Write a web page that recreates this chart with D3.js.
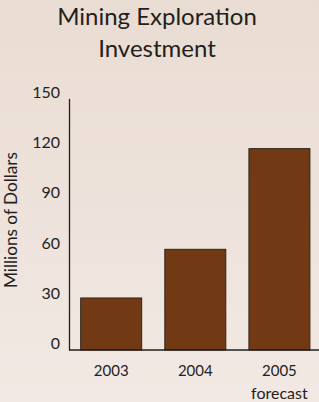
<!DOCTYPE html>
<html><head><meta charset="utf-8">
<script src="https://cdn.jsdelivr.net/npm/d3@7"></script>
<style>
html,body{margin:0;padding:0;}
body{width:319px;height:402px;overflow:hidden;}
text{font-family:Lato,"Open Sans",sans-serif;fill:#231f1c;}
</style></head><body>
<script>
const categories = ["2003", "2004", "2005"];
const subLabels = ["", "", "forecast"];
const values = [31, 60, 120];
const yTicks = [0, 30, 60, 90, 120, 150];
const titleLines = ["Mining Exploration", "Investment"];
const yTitle = "Millions of Dollars";

const W = 319, H = 402;
const svg = d3.select("body").append("svg").attr("width", W).attr("height", H);
const defs = svg.append("defs");
const g = defs.append("linearGradient").attr("id","bg").attr("x1",0).attr("y1",0).attr("x2",0).attr("y2",1);
g.append("stop").attr("offset","0%").attr("stop-color","#e9dcd2");
g.append("stop").attr("offset","100%").attr("stop-color","#f2e9e4");
svg.append("rect").attr("width",W).attr("height",H).attr("fill","url(#bg)");

const x = d3.scaleBand().domain(categories).range([69, 321.6]).paddingInner(0.275).paddingOuter(0.139);
const y = d3.scaleLinear().domain([0,150]).range([350, 98.3]);

svg.selectAll("text.title").data(titleLines).join("text").attr("class","title")
  .attr("x", 157).attr("y",(d,i)=>25+i*32).attr("text-anchor","middle")
  .style("font-size","24px").text(d=>d);

svg.append("text").attr("transform","translate(16.5,220) rotate(-90)").attr("text-anchor","middle")
  .style("font-size","16.5px").attr("textLength",136).attr("lengthAdjust","spacingAndGlyphs").text(yTitle);

const yAxis = svg.append("g").attr("transform","translate(69,0)")
  .call(d3.axisLeft(y).tickValues(yTicks).tickSize(0).tickPadding(9));
yAxis.select(".domain").attr("stroke","#231f1c").attr("stroke-width",1.3);
yAxis.selectAll("text").style("font-size","16px").attr("dy","-0.08em").style("font-family","Lato,sans-serif").attr("fill","#231f1c");

svg.selectAll("rect.bar").data(values).join("rect").attr("class","bar")
  .attr("x",(d,i)=>x(categories[i])).attr("width",x.bandwidth())
  .attr("y",d=>y(d)).attr("height",d=>y(0)-y(d))
  .attr("fill","#723a14").attr("stroke","#2b2420").attr("stroke-width",1);

const xAxis = svg.append("g").attr("transform","translate(0,350)")
  .call(d3.axisBottom(x).tickSize(0).tickPadding(15));
xAxis.select(".domain").attr("d","M69,0H319").attr("stroke","#231f1c").attr("stroke-width",1.3);
xAxis.selectAll("text").style("font-size","15px").style("font-family","Lato,sans-serif").attr("fill","#231f1c");

svg.selectAll("text.sub").data(subLabels).join("text").attr("class","sub")
  .attr("x",(d,i)=>x(categories[i])+x.bandwidth()/2).attr("y",399).attr("text-anchor","middle")
  .style("font-size","16px").text(d=>d);
</script></body></html>
